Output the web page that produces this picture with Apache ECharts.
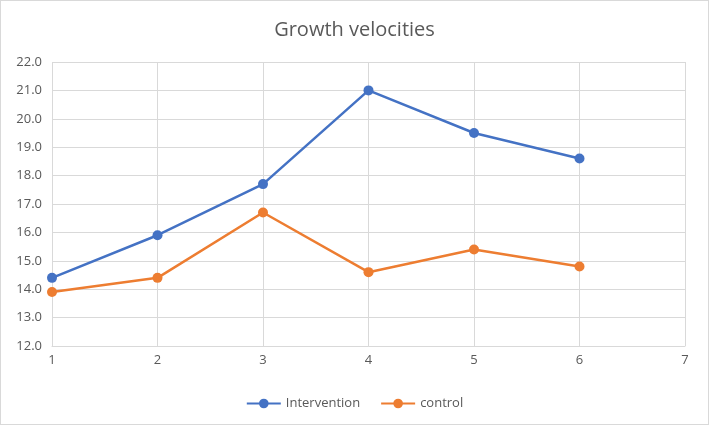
<!DOCTYPE html>
<html><head><meta charset="utf-8">
<script src="https://cdn.jsdelivr.net/npm/echarts@6/dist/echarts.min.js"></script>
<style>html,body{margin:0;padding:0;background:#fff}#c{width:709px;height:425px;box-sizing:border-box;border:1px solid #d9d9d9}</style>
</head><body><div id="c"></div>
<script>
const xValues = [1, 2, 3, 4, 5, 6];
const intervention = [14.4, 15.9, 17.7, 21.0, 19.5, 18.6];
const control = [13.9, 14.4, 16.7, 14.6, 15.4, 14.8];
const seriesNames = ['Intervention', 'control'];
const chart = echarts.init(document.getElementById('c'), null, {renderer: 'canvas'});
const font = 'Open Sans';
function pairs(ys){ return xValues.map((x,i)=>[x, ys[i]]); }
chart.setOption({
  animation: false,
  title: {text: 'Growth velocities', left: 'center', top: 14, textStyle: {fontFamily: font, fontSize: 20, fontWeight: 'normal', color: '#595959'}},
  legend: {bottom: 9, left: 'center', itemWidth: 34, itemHeight: 12, itemGap: 20, textStyle: {fontFamily: font, fontSize: 13, color: '#595959'}, data: seriesNames},
  grid: {left: 51, right: 23, top: 61, bottom: 78},
  xAxis: {type: 'value', min: 1, max: 7, interval: 1,
    axisLine: {show: true, lineStyle: {color: '#d9d9d9'}}, axisTick: {show: false},
    splitLine: {show: true, lineStyle: {color: '#d9d9d9'}},
    axisLabel: {fontFamily: font, fontSize: 13, color: '#595959', margin: 8}},
  yAxis: {type: 'value', min: 12, max: 22, interval: 1,
    axisLine: {show: false}, axisTick: {show: false},
    splitLine: {show: true, lineStyle: {color: '#d9d9d9'}},
    axisLabel: {fontFamily: font, fontSize: 13, color: '#595959', margin: 10, formatter: v => v.toFixed(1)}},
  series: [
    {name: seriesNames[0], type: 'line', data: pairs(intervention), symbol: 'circle', symbolSize: 10, color: '#4472C4', lineStyle: {width: 2.5}},
    {name: seriesNames[1], type: 'line', data: pairs(control), symbol: 'circle', symbolSize: 10, color: '#ED7D31', lineStyle: {width: 2.5}}
  ]
});
</script></body></html>
